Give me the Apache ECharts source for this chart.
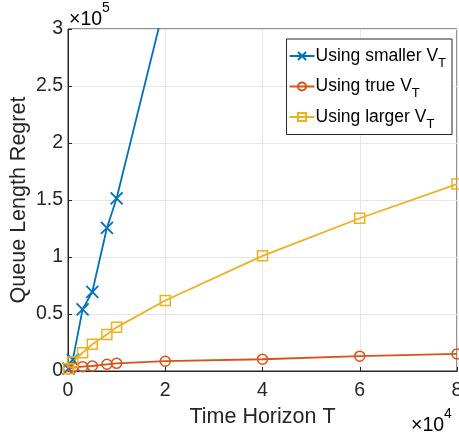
<!DOCTYPE html>
<html><head><meta charset="utf-8">
<script src="https://cdn.jsdelivr.net/npm/echarts@6/dist/echarts.min.js"></script>
<style>html,body{margin:0;padding:0;background:#fff}#c{width:459px;height:436px}</style>
</head><body><div id="c"></div>
<script>
const horizons = [100, 1000, 3000, 5000, 8000, 10000, 20000, 40000, 60000, 80000];
const smallerVT = [2000, 10000, 54000, 69500, 125500, 151500, 324000, 670000, 1000000, 1350000];
const trueVT = [2000, 3000, 3800, 4400, 5900, 6700, 8600, 10300, 13000, 15000];
const largerVT = [2000, 8000, 16000, 23400, 32000, 38300, 61800, 101000, 134000, 164000];
const xTicks = [0, 2, 4, 6, 8];
const yTicks = [0, 0.5, 1, 1.5, 2, 2.5, 3];

const FONT = 'Liberation Sans';
const C1 = '#0072BD', C2 = '#D95319', C3 = '#EDB120';
const chart = echarts.init(document.getElementById('c'));
const rich = {
  a: {fontFamily: FONT, fontSize: 17.5, color: '#000'},
  s: {fontFamily: FONT, fontSize: 13, color: '#000', verticalAlign: 'bottom', padding: [14, 0, 0, 0]}
};
function pairs(ys){ return horizons.map((x,i)=>[x, ys[i]]); }
chart.setOption({
  animation: false,
  grid: {left: 68, top: 29, right: 2, bottom: 65, show: true, borderColor: '#262626', borderWidth: 1,
         outerBoundsMode: 'none', containLabel: false},
  xAxis: {
    type: 'value', min: 0, max: 80000, interval: 20000,
    name: 'Time Horizon T', nameLocation: 'middle', nameGap: 35,
    nameTextStyle: {fontFamily: FONT, fontSize: 21.5, color: '#262626'},
    axisLine: {show: true, onZero: false, lineStyle: {color: '#262626'}},
    axisTick: {show: true, inside: true, length: 4, lineStyle: {color: '#262626'}},
    axisLabel: {fontFamily: FONT, fontSize: 19.5, color: '#262626', margin: 10,
      formatter: v => { const t = v/1e4; return xTicks.indexOf(t) >= 0 ? String(t) : ''; }},
    splitLine: {show: true, lineStyle: {color: '#e6e6e6'}}
  },
  yAxis: {
    type: 'value', min: 0, max: 300000, interval: 50000,
    name: 'Queue Length Regret', nameLocation: 'middle', nameGap: 38, nameMoveOverlap: false,
    nameTextStyle: {fontFamily: FONT, fontSize: 21.5, color: '#262626'},
    axisLine: {show: true, lineStyle: {color: '#262626'}},
    axisTick: {show: true, inside: true, length: 4, lineStyle: {color: '#262626'}},
    axisLabel: {fontFamily: FONT, fontSize: 19.5, color: '#262626', margin: 5,
      formatter: v => { const t = v/1e5; return yTicks.indexOf(t) >= 0 ? String(t) : ''; }},
    splitLine: {show: true, lineStyle: {color: '#e6e6e6'}}
  },
  legend: {
    orient: 'vertical', right: 7, top: 39, itemGap: 8, itemWidth: 25, itemHeight: 10,
    backgroundColor: '#fff', borderColor: '#262626', borderWidth: 1, padding: [8, 6, 4, 2],
    textStyle: {rich: rich, padding: [0, 0, 0, -4]},
    formatter: n => ({'s':'{a|Using smaller V}{s|T}','t':'{a|Using true V}{s|T}','l':'{a|Using larger V}{s|T}'})[n]
  },
  series: [
    {name: 's', type: 'line', data: pairs(smallerVT), clip: true,
     symbol: 'path://M0,0L10,10M10,0L0,10', symbolSize: 12, symbolKeepAspect: true,
     lineStyle: {color: C1, width: 1.8},
     itemStyle: {color: C1, borderColor: C1, borderWidth: 1.8}},
    {name: 't', type: 'line', data: pairs(trueVT), clip: true,
     symbol: 'circle', symbolSize: 10,
     lineStyle: {color: C2, width: 1.8},
     itemStyle: {color: 'rgba(255,255,255,0)', borderColor: C2, borderWidth: 1.5}},
    {name: 'l', type: 'line', data: pairs(largerVT), clip: true,
     symbol: 'rect', symbolSize: 10,
     lineStyle: {color: C3, width: 1.8},
     itemStyle: {color: 'rgba(255,255,255,0)', borderColor: C3, borderWidth: 1.5}}
  ],
  graphic: [
    {type: 'text', left: 69, top: 1, style: {text: '{a|×10}{b|5}', rich: {
      a: {fontFamily: FONT, fontSize: 19.5, color: '#262626', padding: [9,0,0,0]},
      b: {fontFamily: FONT, fontSize: 14, color: '#262626', verticalAlign: 'top'}}}},
    {type: 'text', left: 411, top: 407, style: {text: '{a|×10}{b|4}', rich: {
      a: {fontFamily: FONT, fontSize: 19.5, color: '#262626', padding: [9,0,0,0]},
      b: {fontFamily: FONT, fontSize: 14, color: '#262626', verticalAlign: 'top'}}}}
  ]
});
</script></body></html>
